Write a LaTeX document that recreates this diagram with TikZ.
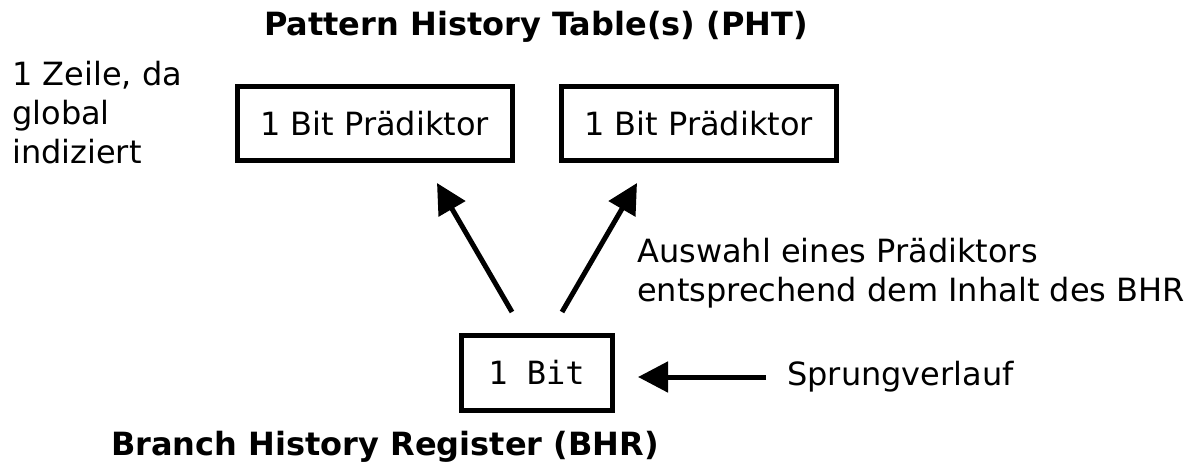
\documentclass[tikz,border=0pt]{standalone}
\usepackage{fontspec}
\setmainfont{DejaVu Sans}
\setmonofont{DejaVu Sans Mono}
\usetikzlibrary{arrows.meta}
\begin{document}
\begin{tikzpicture}[x=1pt,y=-1pt,
  every node/.style={inner sep=0pt,font=\fontsize{32}{39}\selectfont},
  box/.style={draw,line width=5pt,minimum height=73pt},
  lbl/.style={align=left,anchor=west},
  ttl/.style={font=\fontsize{32}{39}\selectfont\bfseries},
  arr/.style={line width=5pt,-{Triangle[length=30pt,width=30pt]}}]
\useasboundingbox (0,0) rectangle (1191,468);
\node[box,minimum width=275pt] (p1) at (374.5,123.5) {1 Bit Prädiktor};
\node[box,minimum width=275pt] (p2) at (698.5,123.5) {1 Bit Prädiktor};
\node[box,minimum width=151pt,minimum height=75pt] (bhr) at (536.5,372.5) {\ttfamily 1 Bit};
\node[ttl] (tp) at (536,27) {Pattern History Table(s) (PHT)};
\node[ttl] (tb) at (385,447) {Branch History Register (BHR)};
\node[lbl] (lz) at (12,113) {1 Zeile, da\\global\\indiziert};
\node[lbl] (la) at (637,273) {Auswahl eines Prädiktors\\entsprechend dem Inhalt des BHR};
\node[lbl] (ls) at (787,377) {Sprungverlauf};
\coordinate (a1s) at (512,312);
\coordinate (a1e) at (437,183);
\coordinate (a2s) at (562,312);
\coordinate (a2e) at (637,183);
\coordinate (a3s) at (766,377);
\coordinate (a3e) at (638,377);
\draw[arr] (a1s) -- (a1e);
\draw[arr] (a2s) -- (a2e);
\draw[arr] (a3s) -- (a3e);
\end{tikzpicture}
\end{document}
